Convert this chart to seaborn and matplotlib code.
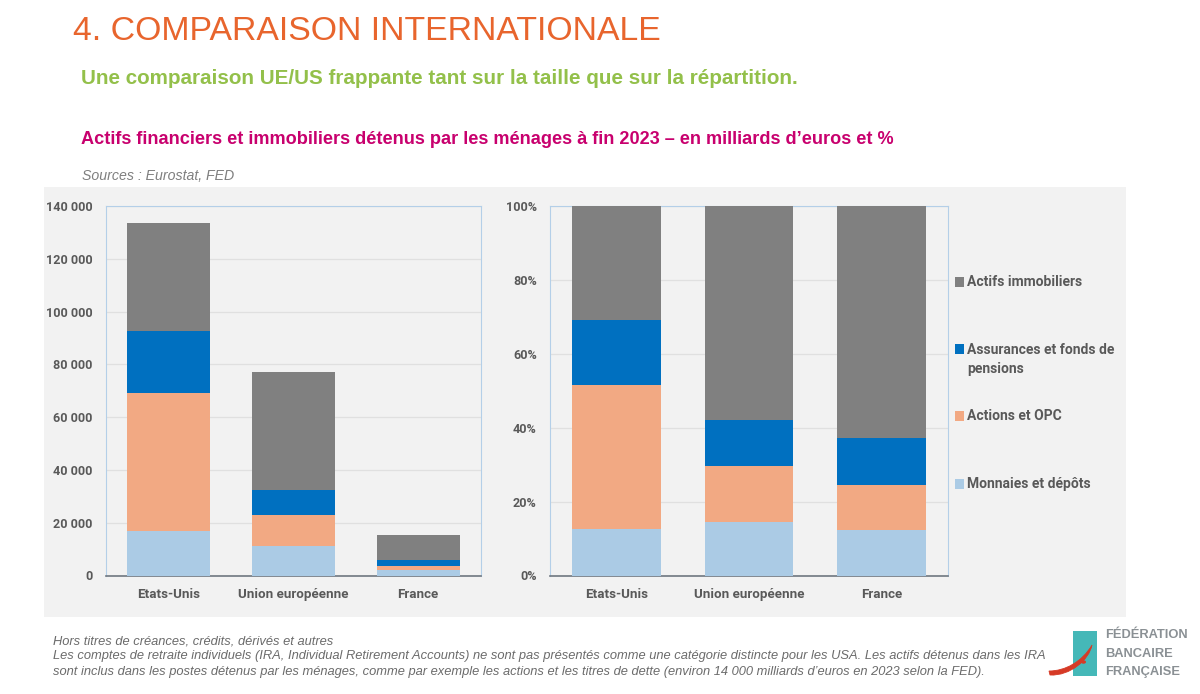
import numpy as np
import matplotlib
matplotlib.use("Agg")
import matplotlib.pyplot as plt
from matplotlib.patches import Rectangle, PathPatch, Ellipse
from matplotlib.path import Path
from matplotlib.ticker import FuncFormatter, MultipleLocator
import seaborn as sns

W, H = 1200, 694

categories = ["Etats-Unis", "Union européenne", "France"]
series_names = ["Monnaies et dépôts", "Actions et OPC", "Assurances et fonds de pensions", "Actifs immobiliers"]

monnaies_abs = [16700, 11000, 1900]
actions_abs = [52300, 12000, 1700]
assurances_abs = [23500, 9500, 2100]
immobilier_abs = [41000, 44500, 9800]

monnaies_pct = [12.5, 14.4, 12.3]
actions_pct = [39.2, 15.3, 12.1]
assurances_pct = [17.6, 12.3, 12.9]
immobilier_pct = [30.7, 58.0, 62.7]

colors = ["#ABCBE5", "#F2A983", "#0070C0", "#808080"]
TICK = "#595959"
FONT = "Roboto"

sns.set_theme(style="white")
plt.rcParams["font.family"] = ["Liberation Sans", "DejaVu Sans"]

fig = plt.figure(figsize=(W / 100, H / 100), dpi=100, facecolor="white")


def axes_px(x0, x1, y0, y1, **kw):
    return fig.add_axes([x0 / W, 1 - y1 / H, (x1 - x0) / W, (y1 - y0) / H], **kw)


def rect_px(x0, y0, x1, y1, color, z=0):
    fig.add_artist(Rectangle((x0 / W, 1 - y1 / H), (x1 - x0) / W, (y1 - y0) / H,
                             transform=fig.transFigure, facecolor=color, edgecolor="none", zorder=z))


def text_px(x, y, s, **kw):
    kw.setdefault("va", "center")
    fig.text(x / W, 1 - y / H, s, **kw)


rect_px(44, 187, 1126, 617, "#F2F2F2")


def stacked(ax, rows, width, ymax, step, fmt):
    ax.set_facecolor("none")
    bottom = np.zeros(len(categories))
    for vals, c in zip(rows, colors):
        sns.barplot(x=categories, y=vals, bottom=bottom, color=c, saturation=1,
                    width=width, ax=ax, linewidth=0, zorder=3, err_kws={"linewidth": 0})
        bottom = bottom + np.array(vals)
    ax.set_xlim(-0.5, 2.5)
    ax.set_ylim(0, ymax)
    ax.yaxis.set_major_locator(MultipleLocator(step))
    ax.yaxis.set_major_formatter(FuncFormatter(fmt))
    ax.grid(axis="y", color="#E0E0E0", linewidth=0.9, zorder=0)
    ax.set_axisbelow(True)
    ax.set_xlabel("")
    ax.set_ylabel("")
    ax.tick_params(axis="y", length=0, labelcolor=TICK, labelsize=9.1, pad=9.5)
    ax.tick_params(axis="x", length=0, labelcolor=TICK, labelsize=9.6, pad=9)
    for lab in ax.get_xticklabels() + ax.get_yticklabels():
        lab.set_fontfamily(FONT)
        lab.set_fontweight("bold")
    for side in ("top", "left", "right"):
        ax.spines[side].set_color("#B4CFE8")
        ax.spines[side].set_linewidth(0.8)
    ax.spines["bottom"].set_color("#6F7780")
    ax.spines["bottom"].set_linewidth(1.2)


ax1 = axes_px(105.7, 480.7, 206.2, 575.5)
stacked(ax1, [monnaies_abs, actions_abs, assurances_abs, immobilier_abs], 0.667, 140000, 20000,
        lambda v, _: f"{int(v):,}".replace(",", " "))
ax2 = axes_px(550, 948, 206.2, 575.5)
stacked(ax2, [monnaies_pct, actions_pct, assurances_pct, immobilier_pct], 0.67, 100, 20,
        lambda v, _: f"{int(v)}%")

# Legend
legend_rows = [
    (282, ["Actifs immobiliers"], colors[3]),
    (349, ["Assurances et fonds de", "pensions"], colors[2]),
    (416, ["Actions et OPC"], colors[1]),
    (483.5, ["Monnaies et dépôts"], colors[0]),
]
for y, lines, c in legend_rows:
    rect_px(955, y - 5, 964, y + 5, c, z=3)
    for i, line in enumerate(lines):
        text_px(967, y + 0.5 + i * 19.5, line, color=TICK, fontsize=10.0, family=FONT, fontweight="bold")

# Headings
text_px(73, 31, "4. COMPARAISON INTERNATIONALE", color="#E8652D", fontsize=24.3)
text_px(81, 78.5, "Une comparaison UE/US frappante tant sur la taille que sur la répartition.",
        color="#93C04A", fontsize=14.86, fontweight="bold")
text_px(81, 139.5, "Actifs financiers et immobiliers détenus par les ménages à fin 2023 – en milliards d’euros et %",
        color="#C8006E", fontsize=13.03, fontweight="bold")
text_px(82, 175.5, "Sources : Eurostat, FED", color="#7F7F7F", fontsize=10.2, style="italic")

# Footnotes
notes = [
    "Hors titres de créances, crédits, dérivés et autres",
    "Les comptes de retraite individuels (IRA, Individual Retirement Accounts) ne sont pas présentés comme une catégorie distincte pour les USA. Les actifs détenus dans les IRA",
    "sont inclus dans les postes détenus par les ménages, comme par exemple les actions et les titres de dette (environ 14 000 milliards d’euros en 2023 selon la FED).",
]
for y, s in zip([641, 656.5, 672], notes):
    text_px(53, y, s, color="#6B6B6B", fontsize=9.32, style="italic")

# Logo
rect_px(1073, 631, 1097, 676, "#45B8B8", z=2)
swoosh = Path(
    [(1049, 671), (1065, 671), (1082, 662), (1092, 645), (1089, 660), (1070, 676), (1050, 675), (1049, 671)],
    [Path.MOVETO, Path.CURVE4, Path.CURVE4, Path.CURVE4, Path.CURVE4, Path.CURVE4, Path.CURVE4, Path.CLOSEPOLY],
)
verts = np.column_stack([swoosh.vertices[:, 0] / W, 1 - swoosh.vertices[:, 1] / H])
fig.add_artist(PathPatch(Path(verts, swoosh.codes), transform=fig.transFigure,
                         facecolor="#D63A26", edgecolor="#D63A26", linewidth=0.6, zorder=4))
fig.add_artist(Ellipse((1083.5 / W, 1 - 662 / H), 5 / W, 3.5 / H, transform=fig.transFigure,
                       facecolor="#D63A26", edgecolor="none", zorder=4))
for y, s in zip([635, 654, 672], ["FÉDÉRATION", "BANCAIRE", "FRANÇAISE"]):
    text_px(1105, y, s, color="#8A9094", fontsize=9.3, fontweight="bold")

fig.savefig("out.png", dpi=100, facecolor="white")
